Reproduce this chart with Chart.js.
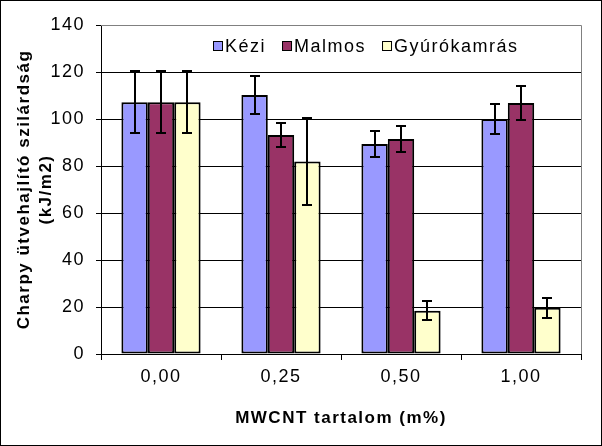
<!DOCTYPE html>
<html>
<head>
<meta charset="utf-8">
<script src="https://cdn.jsdelivr.net/npm/chart.js@4"></script>
<style>
  body { margin: 0; background: #fff; }
  canvas { display: block; }
</style>
</head>
<body>
<canvas id="chart" width="602" height="446"></canvas>
<script>
const categories = ['0,00', '0,25', '0,50', '1,00']
const kezi = [107.1, 110.2, 89.4, 100.0]
const keziErr = [13.2, 8.0, 5.7, 6.3]
const malmos = [107.1, 93.2, 91.5, 106.8]
const malmosErr = [13.2, 5.3, 5.7, 7.1]
const gyuro = [107.1, 81.9, 18.4, 19.7]
const gyuroErr = [13.2, 18.6, 4.1, 4.3]
const yTicks = [0, 20, 40, 60, 80, 100, 120, 140]

const errors = [keziErr, malmosErr, gyuroErr]
const font = 'Liberation Sans, Arial, sans-serif'
const spacing = '1.5px'

// wider text, like the original GDI rendering
const textSpacing = {
    id: 'textSpacing',
    beforeUpdate(chart) { chart.ctx.letterSpacing = spacing },
    beforeDraw(chart) { chart.ctx.letterSpacing = spacing }
}

// error bars with caps, drawn over the bars
const errorBars = {
    id: 'errorBars',
    afterDatasetsDraw(chart) {
        const ctx = chart.ctx
        const y = chart.scales.y
        ctx.save()
        ctx.strokeStyle = '#000'
        ctx.lineWidth = 2
        chart.data.datasets.forEach((ds, i) => {
            const meta = chart.getDatasetMeta(i)
            meta.data.forEach((bar, j) => {
                const v = ds.data[j]
                const e = errors[i][j]
                const top = Math.round(y.getPixelForValue(v + e))
                const bot = Math.round(y.getPixelForValue(v - e))
                const x = Math.round(bar.x)
                ctx.beginPath()
                ctx.moveTo(x, top); ctx.lineTo(x, bot)
                ctx.moveTo(x - 5, top); ctx.lineTo(x + 5, top)
                ctx.moveTo(x - 5, bot); ctx.lineTo(x + 5, bot)
                ctx.stroke()
            })
        })
        ctx.restore()
    }
}

// one-row legend inside the plot area
const innerLegend = {
    id: 'innerLegend',
    afterDatasetsDraw(chart) {
        const ctx = chart.ctx
        const a = chart.chartArea
        let x = a.left + 112
        const yc = a.top + 21
        ctx.save()
        ctx.letterSpacing = spacing
        ctx.font = '18px ' + font
        ctx.textBaseline = 'middle'
        ctx.textAlign = 'left'
        chart.data.datasets.forEach(ds => {
            ctx.fillStyle = ds.backgroundColor
            ctx.fillRect(x, yc - 5, 10, 10)
            ctx.strokeStyle = '#000'
            ctx.lineWidth = 1
            ctx.strokeRect(x + 0.5, yc - 4.5, 9, 9)
            ctx.fillStyle = '#000'
            ctx.fillText(ds.label, x + 12, yc + 1)
            x += 12 + ctx.measureText(ds.label).width + 16
        })
        ctx.restore()
    }
}

// grey plot frame (top/right) and black outer border
const frames = {
    id: 'frames',
    beforeDatasetsDraw(chart) {
        const ctx = chart.ctx
        const a = chart.chartArea
        ctx.save()
        ctx.strokeStyle = '#808080'
        ctx.lineWidth = 1
        ctx.beginPath()
        ctx.moveTo(a.left, a.top + 0.5); ctx.lineTo(a.right + 0.5, a.top + 0.5)
        ctx.lineTo(a.right + 0.5, a.bottom)
        ctx.stroke()
        ctx.restore()
    },
    afterDraw(chart) {
        const ctx = chart.ctx
        ctx.save()
        ctx.strokeStyle = '#000'
        ctx.lineWidth = 1
        ctx.strokeRect(0.5, 0.5, chart.width - 1, chart.height - 1)
        ctx.restore()
    }
}

const chartCtx = document.getElementById('chart').getContext('2d')
const chart = new Chart(chartCtx, {
    type: 'bar',
    data: {
        labels: categories,
        datasets: [
            { label: 'Kézi', data: kezi, backgroundColor: '#9999FF', borderColor: '#000', borderWidth: 2, borderSkipped: false },
            { label: 'Malmos', data: malmos, backgroundColor: '#993366', borderColor: '#000', borderWidth: 2, borderSkipped: false },
            { label: 'Gyúrókamrás', data: gyuro, backgroundColor: '#FFFFCC', borderColor: '#000', borderWidth: 2, borderSkipped: false }
        ]
    },
    options: {
        responsive: false,
        animation: false,
        categoryPercentage: 0.66,
        barPercentage: 1,
        layout: {
            padding: { left: 0, top: 25, right: 21, bottom: 0 }
        },
        scales: {
            x: {
                afterFit(scale) { scale.height = 92 },
                grid: {
                    offset: true,
                    drawOnChartArea: false,
                    drawTicks: true,
                    tickLength: 6,
                    color: '#000'
                },
                border: { color: '#000', width: 1 },
                ticks: {
                    color: '#000',
                    padding: 6,
                    font: { family: font, size: 18 }
                },
                title: {
                    display: true,
                    text: 'MWCNT tartalom (m%)',
                    color: '#000',
                    font: { family: font, size: 17, weight: 'bold' },
                    padding: { top: 0, bottom: 17 }
                }
            },
            y: {
                min: 0,
                max: 140,
                afterFit(scale) { scale.width = 101 },
                afterBuildTicks(scale) { scale.ticks = yTicks.map(v => ({ value: v })) },
                grid: {
                    color: ctx => ctx.tick && ctx.tick.value === 140 ? 'rgba(0,0,0,0)' : '#000',
                    tickColor: '#000',
                    tickLength: 5,
                    lineWidth: 1
                },
                border: { color: '#000', width: 1 },
                ticks: {
                    color: '#000',
                    padding: 11,
                    font: { family: font, size: 18 }
                },
                title: {
                    display: true,
                    text: ['Charpy ütvehajlító szilárdság', '(kJ/m2)'],
                    color: '#000',
                    font: { family: font, size: 17, weight: 'bold', lineHeight: 1.3 },
                    padding: { top: 13, bottom: 0 }
                }
            }
        },
        plugins: {
            legend: { display: false },
            tooltip: { enabled: false }
        }
    },
    plugins: [textSpacing, errorBars, innerLegend, frames]
})
</script>
</body>
</html>
